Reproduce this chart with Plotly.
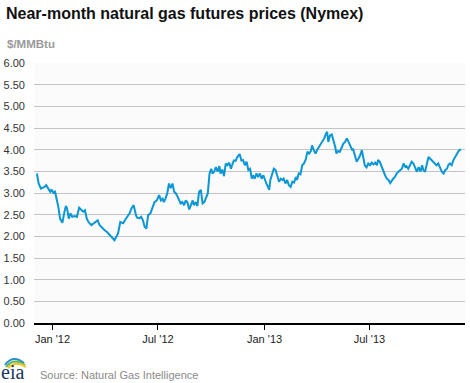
import plotly.graph_objects as go

W, H = 470, 383
ML, MR, MT, MB = 34, 5, 63, 60

dates = [
    "2011-12-05", "2011-12-08", "2011-12-12", "2011-12-18", "2011-12-21", "2011-12-24", "2011-12-28", "2011-12-30",
    "2012-01-03", "2012-01-05", "2012-01-08", "2012-01-11", "2012-01-14", "2012-01-18", "2012-01-21", "2012-01-24",
    "2012-01-26", "2012-01-29", "2012-02-01", "2012-02-04", "2012-02-08", "2012-02-12", "2012-02-16", "2012-02-20",
    "2012-02-23", "2012-02-26", "2012-02-29", "2012-03-03", "2012-03-08", "2012-03-12", "2012-03-15", "2012-03-19",
    "2012-03-22", "2012-03-27", "2012-03-31", "2012-04-04", "2012-04-09", "2012-04-13", "2012-04-17", "2012-04-20",
    "2012-04-23", "2012-04-27", "2012-05-02", "2012-05-05", "2012-05-09", "2012-05-13", "2012-05-16", "2012-05-20",
    "2012-05-24", "2012-05-26", "2012-05-30", "2012-06-02", "2012-06-05", "2012-06-08", "2012-06-11", "2012-06-14",
    "2012-06-18", "2012-06-21", "2012-06-25", "2012-06-29", "2012-07-03", "2012-07-06", "2012-07-09", "2012-07-11",
    "2012-07-14", "2012-07-17", "2012-07-20", "2012-07-23", "2012-07-26", "2012-07-29", "2012-08-01", "2012-08-04",
    "2012-08-06", "2012-08-09", "2012-08-12", "2012-08-15", "2012-08-18", "2012-08-21", "2012-08-24", "2012-08-27",
    "2012-08-30", "2012-09-01", "2012-09-04", "2012-09-07", "2012-09-10", "2012-09-13", "2012-09-16", "2012-09-19",
    "2012-09-22", "2012-09-25", "2012-09-28", "2012-10-01", "2012-10-03", "2012-10-06", "2012-10-09", "2012-10-12",
    "2012-10-15", "2012-10-17", "2012-10-20", "2012-10-23", "2012-10-26", "2012-10-29", "2012-11-01", "2012-11-04",
    "2012-11-07", "2012-11-09", "2012-11-12", "2012-11-15", "2012-11-19", "2012-11-22", "2012-11-25", "2012-11-28",
    "2012-12-01", "2012-12-04", "2012-12-07", "2012-12-10", "2012-12-12", "2012-12-15", "2012-12-18", "2012-12-21",
    "2012-12-24", "2012-12-27", "2012-12-30", "2013-01-02", "2013-01-04", "2013-01-07", "2013-01-09", "2013-01-11",
    "2013-01-14", "2013-01-17", "2013-01-20", "2013-01-23", "2013-01-26", "2013-01-29", "2013-02-01", "2013-02-03",
    "2013-02-06", "2013-02-09", "2013-02-12", "2013-02-15", "2013-02-18", "2013-02-21", "2013-02-24", "2013-02-26",
    "2013-03-01", "2013-03-04", "2013-03-07", "2013-03-10", "2013-03-13", "2013-03-16", "2013-03-19", "2013-03-22",
    "2013-03-24", "2013-03-27", "2013-03-30", "2013-04-02", "2013-04-05", "2013-04-08", "2013-04-11", "2013-04-14",
    "2013-04-17", "2013-04-19", "2013-04-21", "2013-04-24", "2013-04-27", "2013-04-30", "2013-05-03", "2013-05-05",
    "2013-05-08", "2013-05-11", "2013-05-14", "2013-05-17", "2013-05-20", "2013-05-23", "2013-05-26", "2013-05-29",
    "2013-06-01", "2013-06-03", "2013-06-06", "2013-06-09", "2013-06-12", "2013-06-15", "2013-06-18", "2013-06-20",
    "2013-06-23", "2013-06-26", "2013-06-29", "2013-07-02", "2013-07-05", "2013-07-08", "2013-07-11", "2013-07-14",
    "2013-07-16", "2013-07-19", "2013-07-22", "2013-07-25", "2013-07-28", "2013-07-31", "2013-08-03", "2013-08-06",
    "2013-08-09", "2013-08-11", "2013-08-14", "2013-08-17", "2013-08-20", "2013-08-23", "2013-08-26", "2013-08-29",
    "2013-09-01", "2013-09-03", "2013-09-06", "2013-09-09", "2013-09-12", "2013-09-15", "2013-09-18", "2013-09-21",
    "2013-09-24", "2013-09-27", "2013-09-30", "2013-10-02", "2013-10-05", "2013-10-08", "2013-10-11", "2013-10-14",
    "2013-10-17", "2013-10-19", "2013-10-22", "2013-10-25", "2013-10-28", "2013-10-31", "2013-11-03", "2013-11-06",
    "2013-11-09", "2013-11-12", "2013-11-14", "2013-11-17", "2013-11-20", "2013-11-23", "2013-11-26", "2013-11-29",
    "2013-12-02", "2013-12-05", "2013-12-06",
]

prices = [
    3.45, 3.22, 3.10, 3.14, 3.18, 3.10, 3.03, 3.08,
    2.99, 3.05, 2.87, 2.68, 2.41, 2.31, 2.53, 2.70,
    2.65, 2.41, 2.53, 2.45, 2.47, 2.45, 2.66, 2.62,
    2.57, 2.60, 2.41, 2.33, 2.26, 2.30, 2.33, 2.37,
    2.26, 2.18, 2.14, 2.10, 2.03, 1.95, 1.91, 1.99,
    2.06, 2.33, 2.30, 2.37, 2.45, 2.53, 2.64, 2.72,
    2.49, 2.43, 2.42, 2.45, 2.37, 2.22, 2.18, 2.49,
    2.53, 2.64, 2.79, 2.83, 2.95, 2.83, 2.87, 2.79,
    2.87, 2.99, 3.22, 3.11, 3.22, 3.03, 2.99, 2.91,
    2.83, 2.76, 2.79, 2.72, 2.83, 2.78, 2.62, 2.72,
    2.83, 2.72, 2.79, 2.70, 3.03, 3.07, 2.76, 2.79,
    2.91, 2.99, 3.45, 3.56, 3.45, 3.49, 3.60, 3.49,
    3.62, 3.45, 3.54, 3.39, 3.68, 3.64, 3.70, 3.56,
    3.68, 3.75, 3.74, 3.83, 3.90, 3.75, 3.76, 3.64,
    3.72, 3.53, 3.56, 3.33, 3.41, 3.33, 3.45, 3.37,
    3.45, 3.33, 3.41, 3.26, 3.22, 3.14, 3.07, 3.30,
    3.45, 3.56, 3.53, 3.41, 3.26, 3.33, 3.30, 3.33,
    3.22, 3.30, 3.18, 3.14, 3.26, 3.24, 3.37, 3.30,
    3.45, 3.43, 3.64, 3.68, 3.77, 3.95, 3.91, 3.97,
    4.10, 3.99, 3.91, 4.00, 4.06, 4.14, 4.18, 4.26,
    4.37, 4.41, 4.18, 4.33, 4.35, 4.22, 4.06, 3.91,
    3.97, 3.95, 4.03, 4.14, 4.18, 4.26, 4.18, 4.08,
    4.00, 4.01, 3.83, 3.72, 3.79, 3.87, 3.99, 3.83,
    3.64, 3.59, 3.68, 3.64, 3.70, 3.66, 3.70, 3.64,
    3.76, 3.72, 3.60, 3.49, 3.41, 3.33, 3.30, 3.23,
    3.30, 3.33, 3.37, 3.45, 3.49, 3.53, 3.56, 3.68,
    3.60, 3.62, 3.56, 3.64, 3.72, 3.68, 3.60, 3.49,
    3.60, 3.49, 3.64, 3.53, 3.49, 3.68, 3.83, 3.79,
    3.76, 3.72, 3.68, 3.64, 3.68, 3.56, 3.49, 3.45,
    3.53, 3.56, 3.64, 3.68, 3.64, 3.76, 3.83, 3.91,
    3.97, 4.00, 4.01,
]

tick_dates = ["2012-01-01", "2012-07-01", "2013-01-01", "2013-07-01"]
tick_labels = ["Jan '12", "Jul '12", "Jan '13", "Jul '13"]
y_ticks = [0, 0.5, 1, 1.5, 2, 2.5, 3, 3.5, 4, 4.5, 5, 5.5, 6]

title_text = "Near-month natural gas futures prices (Nymex)"
unit_text = "$/MMBtu"
source_text = "Source: Natural Gas Intelligence"
logo_text = "eia"

PW = W - ML - MR
PH = H - MT - MB


def px(x):
    return (x - ML) / PW


def py(y):
    return (H - MB - y) / PH


FONT = "Liberation Sans, Arial, sans-serif"

fig = go.Figure()
fig.add_trace(go.Scatter(
    x=dates, y=prices, mode="lines",
    line=dict(color="#0b96d4", width=2),
    hoverinfo="skip", showlegend=False,
))

fig.update_layout(
    width=W, height=H,
    margin=dict(l=ML, r=MR, t=MT, b=MB),
    paper_bgcolor="white",
    plot_bgcolor="#fbfbfb",
    font=dict(family=FONT, size=11, color="#333"),
    title=dict(
        text="<b>" + title_text + "</b>",
        x=6 / W, xref="container", xanchor="left",
        y=1 - 13.5 / H, yref="container", yanchor="middle",
        font=dict(family=FONT, size=16, color="#111"),
    ),
    xaxis=dict(
        type="date",
        range=["2011-11-30", "2013-12-13"],
        tickvals=tick_dates, ticktext=tick_labels,
        ticks="outside", ticklen=5, tickcolor="#000", tickwidth=1,
        showline=True, linecolor="#000", linewidth=1.5,
        showgrid=False, zeroline=False,
        tickfont=dict(family=FONT, size=11, color="#222"),
        fixedrange=True,
    ),
    yaxis=dict(
        range=[0, 6],
        tickvals=y_ticks, tickformat=".2f",
        showgrid=True, gridcolor="#c4c4c4", gridwidth=1,
        zeroline=False, showline=False, ticks="",
        ticklabelstandoff=8,
        tickfont=dict(family=FONT, size=11, color="#333"),
        fixedrange=True,
    ),
)

annotations = [
    dict(text="<b>" + unit_text + "</b>", xref="paper", yref="paper",
         x=px(5), y=py(43.5), xanchor="left", yanchor="middle", showarrow=False,
         font=dict(family=FONT, size=11.5, color="#9a9a9a")),
    dict(text=source_text, xref="paper", yref="paper",
         x=px(38), y=py(375), xanchor="left", yanchor="middle", showarrow=False,
         font=dict(family=FONT, size=11, color="#8a8a8a")),
    dict(text=logo_text, xref="paper", yref="paper",
         x=px(0), y=py(372), xanchor="left", yanchor="middle", showarrow=False,
         borderpad=0,
         font=dict(family="Liberation Serif, DejaVu Serif, serif", size=20, color="#17375e")),
]
fig.update_layout(annotations=annotations)

# logo swoosh arcs
shapes = []
for (x0, y0, x1, y1, cx, cy, col) in [
    (5, 365, 24, 363, 13, 354, "#2a8fd0"),
    (6, 367, 25, 365, 14, 357, "#5cb85c"),
    (8, 368, 26, 367, 16, 360, "#f0c419"),
]:
    shapes.append(dict(
        type="path", xref="paper", yref="paper",
        path=f"M {px(x0)} {py(y0)} Q {px(cx)} {py(cy)} {px(x1)} {py(y1)}",
        line=dict(color=col, width=2),
    ))
fig.update_layout(shapes=shapes)

fig.write_html(
    "out.html",
    config={"displayModeBar": False, "staticPlot": True},
    post_script="document.body.style.margin='0';document.body.style.overflow='hidden';",
)
